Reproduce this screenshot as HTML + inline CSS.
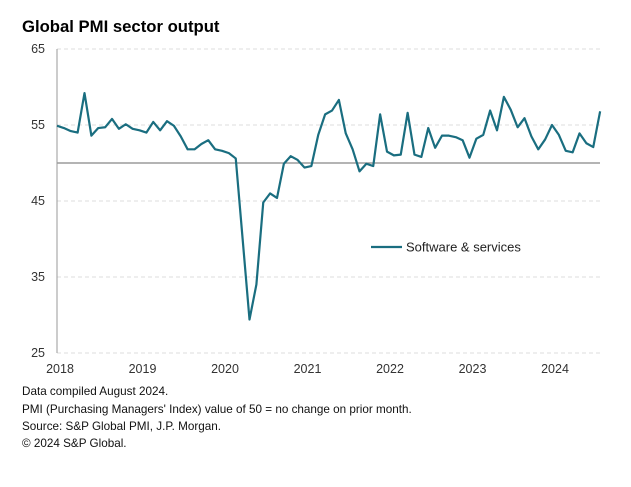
<!DOCTYPE html>
<html><head><meta charset="utf-8"><style>
body{margin:0;background:#fff;font-family:"Liberation Sans",Arial,sans-serif;}
svg{display:block}
</style></head><body>
<svg width="631" height="487" viewBox="0 0 631 487">
<text x="22" y="32" font-size="16.7" font-weight="bold" fill="#000">Global PMI sector output</text>
<g id="grid"></g>
<g id="yticks" font-size="12.5" fill="#333" text-anchor="end"></g>
<g id="xticks" font-size="12.5" fill="#333" text-anchor="middle"></g>
<line x1="57" y1="49" x2="57" y2="353" stroke="#999" stroke-width="1"/>
<path id="series" fill="none" stroke="#1a6e80" stroke-width="2.2" stroke-linejoin="round"/>
<g>
<line x1="371" y1="247" x2="402" y2="247" stroke="#1a6e80" stroke-width="2.2"/>
<text x="406" y="251.5" font-size="13" fill="#222">Software &amp; services</text>
</g>
<g font-size="11.7" fill="#111">
<text x="22" y="395">Data compiled August 2024.</text>
<text x="22" y="413">PMI (Purchasing Managers' Index) value of 50 = no change on prior month.</text>
<text x="22" y="430">Source: S&amp;P Global PMI, J.P. Morgan.</text>
<text x="22" y="447">© 2024 S&amp;P Global.</text>
</g>
</svg>
<script>
const yTicks=[25,35,45,55,65];
const xYears=["2018","2019","2020","2021","2022","2023","2024"];
const values=[54.9,54.6,54.2,54.0,59.2,53.6,54.6,54.7,55.8,54.5,55.1,54.5,
54.3,54.0,55.4,54.3,55.5,54.9,53.5,51.8,51.8,52.5,53.0,51.8,
51.6,51.3,50.6,40.0,29.4,34.0,44.8,46.0,45.4,49.9,50.9,50.4,
49.4,49.6,53.7,56.4,56.9,58.3,53.9,51.8,48.9,49.9,49.6,56.4,
51.5,51.0,51.1,56.6,51.1,50.8,54.6,52.0,53.6,53.6,53.4,53.0,
50.7,53.2,53.7,56.9,54.3,58.7,57.0,54.7,55.9,53.5,51.8,53.1,
55.0,53.7,51.6,51.4,53.9,52.6,52.1,56.8];
const NS="http://www.w3.org/2000/svg";
const x=i=>57+i*6.875;
const y=v=>353-(v-25)*7.6;
const grid=document.getElementById('grid');
const yt=document.getElementById('yticks');
yTicks.forEach(t=>{
  const l=document.createElementNS(NS,'line');
  l.setAttribute('x1',57);l.setAttribute('x2',600);
  l.setAttribute('y1',y(t));l.setAttribute('y2',y(t));
  l.setAttribute('stroke','#ddd');l.setAttribute('stroke-dasharray','4,3');
  
  
  grid.appendChild(l);
  const tx=document.createElementNS(NS,'text');
  tx.setAttribute('x',45);tx.setAttribute('y',y(t)+4);tx.textContent=t;
  
  
  yt.appendChild(tx);
});
const base=document.createElementNS(NS,'line');
base.setAttribute('x1',57);base.setAttribute('x2',600);
base.setAttribute('y1',y(50));base.setAttribute('y2',y(50));
base.setAttribute('stroke','#888');base.setAttribute('stroke-width','1.2');


grid.appendChild(base);
const xt=document.getElementById('xticks');
xYears.forEach((yr,k)=>{
  const tx=document.createElementNS(NS,'text');
  tx.setAttribute('x',x(k*12)+3);tx.setAttribute('y',373);tx.textContent=yr;
  
  
  xt.appendChild(tx);
});
document.getElementById('series').setAttribute('d',values.map((v,i)=>(i?'L':'M')+x(i).toFixed(2)+','+y(v).toFixed(2)).join(''));
</script>
</body></html>
